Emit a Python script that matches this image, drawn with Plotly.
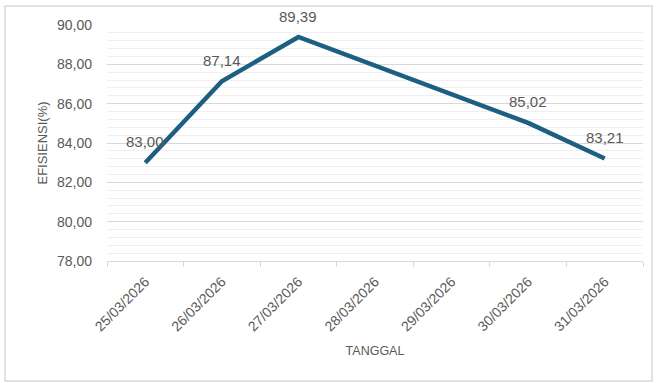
import plotly.graph_objects as go

dates = ["25/03/2026", "26/03/2026", "27/03/2026", "28/03/2026",
         "29/03/2026", "30/03/2026", "31/03/2026"]
efisiensi = [83.00, 87.14, 89.39, None, None, 85.02, 83.21]
labels = ["83,00", "87,14", "89,39", "", "", "85,02", "83,21"]

W, H = 657, 383
ml, mr, mt, mb = 107, 14, 25, 122
pw, ph = W - ml - mr, H - mt - mb

fig = go.Figure()
fig.add_trace(go.Scatter(
    x=dates, y=efisiensi, mode="lines", connectgaps=True,
    line=dict(color="#1d5f80", width=4.5),
    showlegend=False,
))

annotations = []
for d, v, t in zip(dates, efisiensi, labels):
    if v is None:
        continue
    annotations.append(dict(
        x=d, y=v, xref="x", yref="y", text=t, showarrow=False,
        yshift=21, font=dict(size=15, color="#595959", family="Liberation Sans"),
    ))

fig.update_layout(
    width=W, height=H,
    margin=dict(l=ml, r=mr, t=mt, b=mb, autoexpand=False),
    paper_bgcolor="white", plot_bgcolor="white",
    separators=",.",
    font=dict(family="Liberation Sans", color="#595959", size=13),
    annotations=annotations,
    xaxis=dict(
        type="category", range=[-0.5, 6.5], tickangle=-45, tickson="boundaries",
        ticks="outside", ticklen=5, tickcolor="#d9d9d9",
        showline=True, linecolor="#d9d9d9", linewidth=1,
        showgrid=False, tickfont=dict(size=14, color="#595959"),
        ticklabelstandoff=6,
        title=dict(text="TANGGAL", font=dict(size=12.5, color="#595959"), standoff=12),
    ),
    yaxis=dict(
        range=[78, 90], dtick=2, tick0=78, tickformat=".2f",
        showgrid=True, gridcolor="#d9d9d9", gridwidth=1,
        minor=dict(dtick=0.4, tick0=78, showgrid=True, gridcolor="#efefef", gridwidth=1),
        zeroline=False, ticks="", ticklabelstandoff=14,
        tickfont=dict(size=14, color="#595959"),
        title=dict(text="EFISIENSI(%)", font=dict(size=13, color="#595959"), standoff=6),
    ),
    shapes=[dict(
        type="rect", xref="paper", yref="paper",
        x0=(5 - ml) / pw, x1=(652 - ml) / pw,
        y0=(H - mb - 381) / ph, y1=(H - mb - 6) / ph,
        line=dict(color="#d9d9d9", width=1.5), layer="below",
    )],
)

fig.write_html("out.html")
